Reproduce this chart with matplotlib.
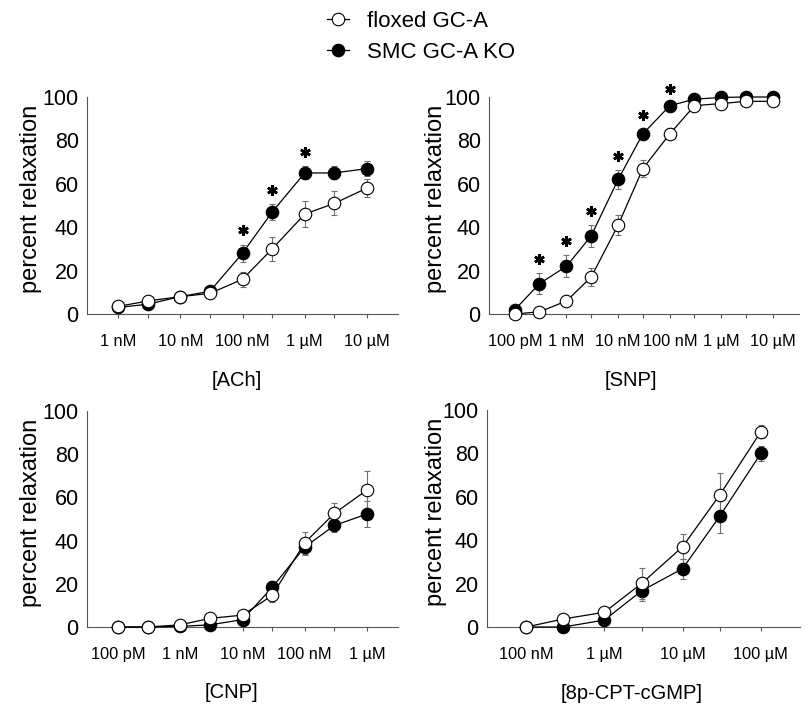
import matplotlib
matplotlib.use("Agg")
import matplotlib.pyplot as plt
import numpy as np

plt.rcParams['font.family'] = ['Liberation Sans', 'DejaVu Sans']

# ---------------- data ----------------
ach_conc = [1e-9, 3e-9, 1e-8, 3e-8, 1e-7, 3e-7, 1e-6, 3e-6, 1e-5]
ach_flox = [3.5, 6, 8, 9.5, 16, 30, 46, 51, 58]
ach_flox_err = [1, 1, 1, 1, 3.5, 5.5, 6, 5.5, 4]
ach_ko = [3, 4.5, 8, 10.5, 28, 47, 65, 65, 67]
ach_ko_err = [1, 1, 1, 1, 4, 3.5, 3, 3, 3.5]
ach_sig = [0, 0, 0, 0, 1, 1, 1, 0, 0]

snp_conc = [1e-10, 3e-10, 1e-9, 3e-9, 1e-8, 3e-8, 1e-7, 3e-7, 1e-6, 3e-6, 1e-5]
snp_flox = [0, 1, 6, 17, 41, 67, 83, 96, 97, 98, 98]
snp_flox_err = [0.5, 0.5, 1, 4, 4.6, 3.8, 2.5, 1, 1, 1, 1]
snp_ko = [2, 14, 22, 36, 62, 83, 96, 99, 99.8, 100, 100]
snp_ko_err = [1, 5, 5, 5, 4.4, 2, 1, 0.5, 0.5, 0.5, 0.5]
snp_sig = [0, 1, 1, 1, 1, 1, 1, 0, 0, 0, 0]

cnp_conc = [1e-10, 3e-10, 1e-9, 3e-9, 1e-8, 3e-8, 1e-7, 3e-7, 1e-6]
cnp_flox = [0, 0, 1, 4, 5.5, 14.6, 39, 52.6, 63.4]
cnp_flox_err = [0.3, 0.3, 0.5, 1, 1, 3, 5, 5, 8.8]
cnp_ko = [0, 0, 0.3, 1, 3.4, 18.3, 37, 47, 52.3]
cnp_ko_err = [0.3, 0.3, 0.3, 0.5, 1, 3, 3.5, 3, 6]

cpt_conc = [1e-7, 3e-7, 1e-6, 3e-6, 1e-5, 3e-5, 1e-4]
cpt_flox = [0, 3.7, 6.8, 20.1, 37, 61, 90]
cpt_flox_err = [0.5, 1, 1.5, 7, 5.7, 10, 3]
cpt_ko = [0, 0, 3.2, 16.7, 26.9, 51.2, 80]
cpt_ko_err = [0.5, 0.5, 1, 4.6, 4.6, 8, 3.5]

conc_labels = {1e-10: '100 pM', 1e-9: '1 nM', 1e-8: '10 nM', 1e-7: '100 nM',
               1e-6: '1 \u00b5M', 1e-5: '10 \u00b5M', 1e-4: '100 \u00b5M'}

series_names = ['floxed GC-A', 'SMC GC-A KO']
yticks = [0, 20, 40, 60, 80, 100]

# ---------------- layout ----------------
W, H = 807, 705
fig = plt.figure(figsize=(W / 100, H / 100), dpi=100)

def axrect(left, top, right, bottom):
    return [left / W, 1 - bottom / H, (right - left) / W, (bottom - top) / H]

panels = [
    dict(rect=axrect(87, 97, 398, 314), conc=ach_conc, flox=ach_flox, flox_err=ach_flox_err,
         ko=ach_ko, ko_err=ach_ko_err, sig=ach_sig, xlabel='[ACh]', xlab_x=0.482,
         ylab_x=-0.18),
    dict(rect=axrect(489, 97, 799, 314), conc=snp_conc, flox=snp_flox, flox_err=snp_flox_err,
         ko=snp_ko, ko_err=snp_ko_err, sig=snp_sig, xlabel='[SNP]', xlab_x=0.458,
         ylab_x=-0.171),
    dict(rect=axrect(87, 411, 398, 627), conc=cnp_conc, flox=cnp_flox, flox_err=cnp_flox_err,
         ko=cnp_ko, ko_err=cnp_ko_err, sig=None, xlabel='[CNP]', xlab_x=0.466,
         ylab_x=-0.18),
    dict(rect=axrect(487, 410, 800, 627), conc=cpt_conc, flox=cpt_flox, flox_err=cpt_flox_err,
         ko=cpt_ko, ko_err=cpt_ko_err, sig=None, xlabel='[8p-CPT-cGMP]', xlab_x=0.462,
         ylab_x=-0.163),
]

spine_col = '#555555'
err_col = '#707070'
handles = None
for p in panels:
    ax = fig.add_axes(p['rect'])
    c = np.array(p['conc'])
    ax.set_xscale('log')
    lo = np.log10(c[0]) - 0.5
    hi = np.log10(c[-1]) + 0.5
    ax.set_xlim(10 ** lo, 10 ** hi)
    ax.set_ylim(0, 100)

    # error bars (behind markers)
    ax.errorbar(c, p['ko'], yerr=p['ko_err'], fmt='none', ecolor=err_col,
                elinewidth=0.8, capsize=2.2, capthick=0.8, zorder=2)
    ax.errorbar(c, p['flox'], yerr=p['flox_err'], fmt='none', ecolor=err_col,
                elinewidth=0.8, capsize=2.2, capthick=0.8, zorder=2)
    h_ko, = ax.plot(c, p['ko'], '-', color='black', lw=0.9, marker='o', ms=9,
                    mfc='black', mec='black', mew=0.8, zorder=3, clip_on=False)
    h_fl, = ax.plot(c, p['flox'], '-', color='black', lw=0.9, marker='o', ms=9,
                    mfc='white', mec='black', mew=0.8, zorder=4, clip_on=False)
    if handles is None:
        handles = [h_fl, h_ko]

    if p['sig'] is not None:
        sig = np.array(p['sig'], dtype=bool)
        ys = np.array(p['ko']) + np.array(p['ko_err']) + 6.5
        ax.plot(c[sig], ys[sig], linestyle='none', marker=(6, 2, 0), ms=7.5, mew=1.9,
                color='black', clip_on=False, zorder=5)

    ax.set_xticks(c)
    ax.set_xticklabels([conc_labels.get(float(v), '') for v in c])
    ax.minorticks_off()
    ax.set_yticks(yticks)
    ax.set_yticklabels([str(v) for v in yticks])

    for s in ['top', 'right']:
        ax.spines[s].set_visible(False)
    for s in ['left', 'bottom']:
        ax.spines[s].set_color(spine_col)
        ax.spines[s].set_linewidth(0.8)
    ax.tick_params(axis='x', direction='out', length=3, width=0.8, color=spine_col,
                   labelsize=11.8, pad=11.5)
    ax.tick_params(axis='y', length=0, labelsize=15.5, pad=6)

    ax.set_ylabel('percent relaxation', fontsize=17, va='center')
    ax.yaxis.set_label_coords(p['ylab_x'], 0.53)
    ax.set_xlabel(p['xlabel'], fontsize=14.5, va='center')
    ax.xaxis.set_label_coords(p['xlab_x'], -0.305)

fig.legend(handles=handles, labels=series_names, loc='upper left',
           bbox_to_anchor=(327 / W, 1 - 11 / H), frameon=False, fontsize=16,
           handlelength=1.0, handletextpad=0.8, labelspacing=0.45,
           borderpad=0, borderaxespad=0)

fig.savefig('out.png', dpi=100)
